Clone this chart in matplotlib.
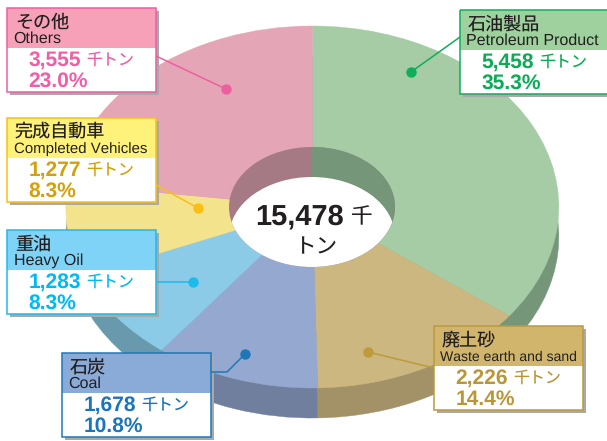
import matplotlib
matplotlib.use('Agg')
import matplotlib.pyplot as plt
from matplotlib.patches import Ellipse, Rectangle

plt.rcParams['text.hinting'] = 'no_hinting'
plt.rcParams['text.hinting_factor'] = 1

W, H = 607, 441
names_ja = ['石油製品', '廃土砂', '石炭', '重油', '完成自動車', 'その他']
names_en = ['Petroleum Product', 'Waste earth and sand', 'Coal', 'Heavy Oil', 'Completed Vehicles', 'Others']
values = [5458, 2226, 1678, 1283, 1277, 3555]
value_labels = ['5,458', '2,226', '1,678', '1,283', '1,277', '3,555']
percent_labels = ['35.3%', '14.4%', '10.8%', '8.3%', '8.3%', '23.0%']
total_label = '15,478'
unit = '千トン'

top_colors = ['#a5cca5', '#cdb780', '#95a9d0', '#8ccbe8', '#f2e38c', '#e4a6b6']
side_colors = ['#76967a', '#a39268', '#6f7f9d', '#6899ac', '#a89d66', '#a67a85']
header_colors = ['#9ed19e', '#d2b56c', '#8aaad8', '#7fd3f7', '#fff27a', '#f7a1b8']
border_colors = ['#10ad5a', '#bd9a3a', '#1f77b8', '#1cbbea', '#fbbf14', '#ee5fa0']
text_colors = ['#0aac55', '#bb9638', '#1b75bb', '#00b9f2', '#d4a00e', '#ef5fa5']

box_xy = [(460, 10), (434, 326), (62, 353), (7, 230), (7, 118), (7, 8)]
dot_xy = [(411, 72), (368, 352), (245, 354), (193, 282), (198, 208), (226, 89)]
leader_from = [[(460, 37)], [(434, 368)], [(211, 372), (227, 372)], [(156, 282)], [(156, 185)], [(156, 56)]]
en_sizes = [11.6, 10, 11.8, 11.2, 11, 11.5]

CJK = ['Noto Sans CJK JP', 'DejaVu Sans']
LAT = ['Liberation Sans', 'DejaVu Sans']

fig = plt.figure(figsize=(W / 100, H / 100), dpi=100, facecolor='white')


def px_axes(x0, y0, x1, y1):
    return fig.add_axes([x0 / W, 1 - y1 / H, (x1 - x0) / W, (y1 - y0) / H])


def pie_layer(x0, y0, x1, y1, colors):
    a = px_axes(x0, y0, x1, y1)
    wedges, _ = a.pie(values, colors=colors, startangle=90, counterclock=False, radius=1)
    for w, c in zip(wedges, colors):
        w.set_edgecolor(c)
        w.set_linewidth(0.3)
    a.set_aspect('auto')
    a.set_xlim(-1, 1)
    a.set_ylim(-1, 1)
    a.axis('off')
    a.patch.set_alpha(0)


cx, cy, rx, ry, depth = 312.3, 207, 246.5, 181, 30
pie_layer(cx - rx, cy - ry + depth, cx + rx, cy + ry + depth, side_colors)
pie_layer(cx - rx, cy - ry, cx + rx, cy + ry, top_colors)

ax = fig.add_axes([0, 0, 1, 1])
ax.set_xlim(0, W)
ax.set_ylim(H, 0)
ax.axis('off')
ax.patch.set_alpha(0)

# centre hole: back wall and white opening
hx, hy, hw, hh = 312, 207, 166, 120
hole = Ellipse((hx, hy), hw, hh, fc=side_colors[5], ec='none', zorder=2)
ax.add_patch(hole)
right = Ellipse((hx, hy), hw, hh, fc=side_colors[0], ec='none', zorder=2.1)
ax.add_patch(right)
right.set_clip_path(Rectangle((hx, 0), 200, H, transform=ax.transData))
lens = Ellipse((hx, hy + depth), hw, hh, fc='white', ec='none', zorder=2.2)
ax.add_patch(lens)
lens.set_clip_path(Ellipse((hx, hy), hw, hh, transform=ax.transData))

ax.text(255, 217, total_label, fontsize=20.7, fontweight='bold', family=LAT,
        color='#231f20', ha='left', va='center', zorder=3)
ax.text(350, 217, unit[0], fontsize=15.5, family=CJK, color='#231f20',
        ha='left', va='center', zorder=3)
ax.text(316, 247, unit[1:], fontsize=15.5, family=CJK, color='#231f20',
        ha='center', va='center', zorder=3)

BW, BH, HEAD = 149, 84, 40
for i in range(len(values)):
    x, y = box_xy[i]
    ax.add_patch(Rectangle((x + 3, y + 3), BW, BH, fc='#a9a9a9', ec='none', zorder=4))
    pts = leader_from[i] + [dot_xy[i]]
    ax.plot([p[0] for p in pts], [p[1] for p in pts], color=border_colors[i], lw=1.1, zorder=5)
    ax.plot(*dot_xy[i], 'o', ms=7.5, color=border_colors[i], mec='none', zorder=5)
    ax.add_patch(Rectangle((x, y), BW, BH, fc='white', ec='none', zorder=6))
    ax.add_patch(Rectangle((x, y), BW, HEAD, fc=header_colors[i], ec='none', zorder=6.1))
    ax.add_patch(Rectangle((x, y), BW, BH, fc='none', ec=border_colors[i], lw=1.1, zorder=6.2))
    ax.text(x + 8, y + 14, names_ja[i], fontsize=13, family=CJK, color='#231f20',
            ha='left', va='center', zorder=7)
    ax.text(x + 6.5, y + 31, names_en[i], fontsize=en_sizes[i], family=LAT, color='#231f20',
            ha='left', va='center', zorder=7)
    ax.text(x + 21.5, y + 52, value_labels[i], fontsize=15, fontweight='bold', family=LAT,
            color=text_colors[i], ha='left', va='center', zorder=7)
    ax.text(x + 79, y + 52, unit, fontsize=11.5, family=CJK, color=text_colors[i],
            ha='left', va='center', zorder=7)
    ax.text(x + 21.5, y + 73, percent_labels[i], fontsize=15, fontweight='bold', family=LAT,
            color=text_colors[i], ha='left', va='center', zorder=7)

fig.savefig('out.png', dpi=100)
